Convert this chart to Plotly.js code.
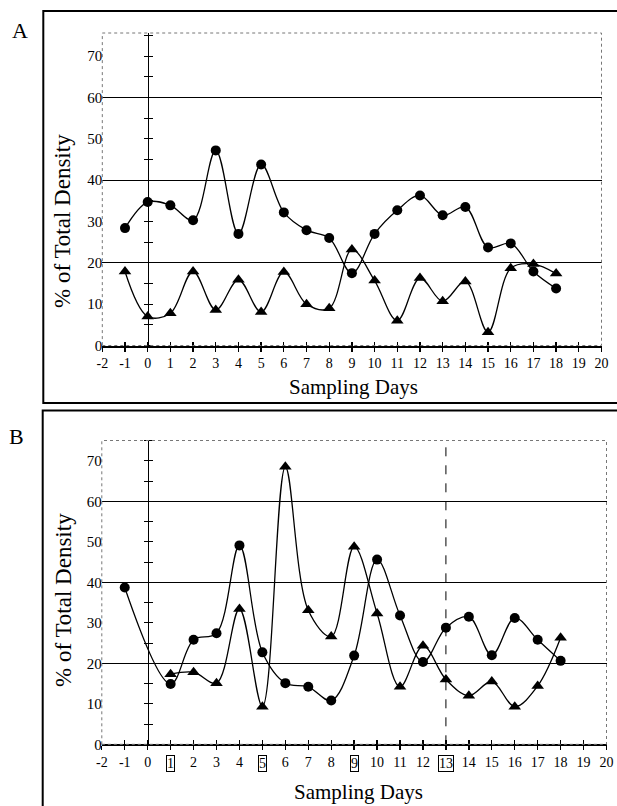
<!DOCTYPE html>
<html>
<head>
<meta charset="utf-8">
<script src="https://cdn.plot.ly/plotly-3.0.1.min.js"></script>
<style>html,body{margin:0;padding:0;background:#fff;}#chart{width:617px;height:806px;}</style>
</head>
<body>
<div id="chart"></div>
<script>
// ---------- data ----------
const xTicks = [-2,-1,0,1,2,3,4,5,6,7,8,9,10,11,12,13,14,15,16,17,18,19,20];
const yTicks = [0,10,20,30,40,50,60,70];
const yGrid  = [20,40,60];
const yMinor = [0,5,10,15,20,25,30,35,40,45,50,55,60,65,70,75];

// Panel A
const daysA = [-1,0,1,2,3,4,5,6,7,8,9,10,11,12,13,14,15,16,17,18];
const aCircle   = [28.4,34.7,33.9,30.3,47.2,27.0,43.8,32.2,27.9,26.0,17.5,27.0,32.7,36.3,31.5,33.5,23.7,24.7,17.9,13.8];
const aTriangle = [17.9,7.0,7.8,17.9,8.6,15.9,8.1,17.8,10.0,9.0,23.2,15.7,6.0,16.3,10.7,15.5,3.2,18.7,19.7,17.4];

// Panel B
const daysBCircle = [-1,1,2,3,4,5,6,7,8,9,10,11,12,13,14,15,16,17,18];
const bCircle     = [38.7,14.9,25.8,27.4,49.1,22.7,15.1,14.2,10.8,21.9,45.6,31.8,20.3,28.8,31.5,22.0,31.2,25.8,20.6];
const daysBTri    = [1,2,3,4,5,6,7,8,9,10,11,12,13,14,15,16,17,18];
const bTriangle   = [17.3,17.8,15.1,33.4,9.3,68.5,33.1,26.6,48.8,32.3,14.2,24.3,16.0,12.0,15.5,9.3,14.4,26.3];

const boxedDaysB = [1,5,9,13];
const dashedDayB = 13;

// ---------- styling ----------
const FONT = 'Liberation Serif, Times New Roman, serif';
const W = 617, H = 806;
const px = v => v / W;
const py = v => 1 - v / H;

const lineStyle = {color:'#000', width:1.3, shape:'spline', smoothing:1};
function series(x, y, sym, xa, ya, size){
  return {x:x, y:y, xaxis:xa, yaxis:ya, type:'scatter', mode:'lines+markers',
    line:lineStyle, marker:{symbol:sym, size:size, color:'#000'},
    hoverinfo:'skip', showlegend:false, cliponaxis:false};
}
// empty carrier traces so that overlay axes get drawn
function carrier(xa, ya){
  return {x:[], y:[], xaxis:xa, yaxis:ya, type:'scatter', mode:'markers',
    hoverinfo:'skip', showlegend:false};
}

const rangeX = [-2, 20];
const rangeYA = [0, 75.6];
const rangeYB = [0, 75];

const domXA = [px(102.3), px(601.5)];
const domYA = [py(345.5), py(33)];
const domXB = [px(101.8), px(606.5)];
const domYB = [py(744.3), py(440.5)];
const zeroPos = px(147.7);

const ticktextB = xTicks.map(v => boxedDaysB.includes(v) ? '' : String(v));

function xMain(dom, anchor, ticktext){
  return {domain:dom, anchor:anchor, range:rangeX, tickmode:'array', tickvals:xTicks,
    ticktext:ticktext, showline:true, linewidth:2, linecolor:'#000', ticks:'outside',
    ticklen:4, tickwidth:1.3, tickcolor:'#000', showgrid:false, zeroline:false,
    tickfont:{family:FONT, size:14, color:'#000'}, fixedrange:true};
}
function xInside(over, anchor){
  return {overlaying:over, anchor:anchor, side:'bottom', range:rangeX, tickmode:'array',
    tickvals:xTicks, ticks:'inside', ticklen:4, tickwidth:1.3, tickcolor:'#000',
    showticklabels:false, showline:false, showgrid:false, zeroline:false};
}
// main y: gridlines only
function yMain(dom, anchor, range){
  return {domain:dom, anchor:anchor, range:range, tickmode:'array', tickvals:yGrid,
    showticklabels:false, ticks:'', showline:false, showgrid:true, gridcolor:'#000',
    gridwidth:1, zeroline:false, fixedrange:true};
}
// overlay y: tick labels at left edge
function yLabels(over, pos, range){
  return {overlaying:over, anchor:'free', position:pos, side:'left', range:range,
    tickmode:'array', tickvals:yTicks, ticks:'', showline:false, showgrid:false,
    zeroline:false, tickfont:{family:FONT, size:15, color:'#000'}};
}
// overlay y at x = 0: line + crossing ticks every 5
function yZero(over, range, side, line){
  return {overlaying:over, anchor:'free', position:zeroPos, side:side, range:range,
    tickmode:'array', tickvals:yMinor, showgrid:false, ticks:'outside', ticklen:4,
    tickwidth:1, tickcolor:'#000', showticklabels:false, showline:line,
    linecolor:'#000', linewidth:1.5, zeroline:false};
}

const data = [
  carrier('x3', 'y'), carrier('x', 'y3'), carrier('x', 'y4'), carrier('x', 'y5'),
  carrier('x4', 'y2'), carrier('x2', 'y6'), carrier('x2', 'y7'), carrier('x2', 'y8'),
  series(daysA, aCircle, 'circle', 'x', 'y', 10),
  series(daysA, aTriangle, 'triangle-up', 'x', 'y', 11),
  series(daysBCircle, bCircle, 'circle', 'x2', 'y2', 10),
  series(daysBTri, bTriangle, 'triangle-up', 'x2', 'y2', 11)
];

const shapes = [
  // outer panel boxes
  {type:'rect', xref:'paper', yref:'paper', x0:px(43.3), x1:1.05, y0:py(403), y1:py(11),
    line:{color:'#000', width:2}},
  {type:'rect', xref:'paper', yref:'paper', x0:px(42.7), x1:1.05, y0:-0.05, y1:py(410.5),
    line:{color:'#000', width:2}},
  // plot borders (dotted)
  {type:'rect', xref:'x domain', yref:'y domain', x0:0, x1:1, y0:0, y1:1,
    line:{color:'#777', width:1, dash:'dot'}},
  {type:'rect', xref:'x2 domain', yref:'y2 domain', x0:0, x1:1, y0:0, y1:1,
    line:{color:'#777', width:1, dash:'dot'}},
  // dashed line in B
  {type:'line', xref:'x2', yref:'y2 domain', x0:dashedDayB, x1:dashedDayB, y0:0, y1:1,
    line:{color:'#000', width:1, dash:'dash'}}
];

function ann(text, x, y, size, extra){
  return Object.assign({text:text, xref:'paper', yref:'paper', x:x, y:y, xanchor:'center',
    yanchor:'middle', showarrow:false, font:{family:FONT, size:size, color:'#000'}}, extra || {});
}
const annotations = [
  ann('A', px(20), py(30), 22),
  ann('B', px(16), py(436), 22),
  ann('% of Total Density', px(63), py(221), 23, {textangle:-90}),
  ann('% of Total Density', px(63), py(600), 23, {textangle:-90}),
  ann('Sampling Days', px(354), py(387), 21),
  ann('Sampling Days', px(358), py(792), 21)
];
boxedDaysB.forEach(d => annotations.push(ann(String(d), d, py(763), 14,
  {xref:'x2', bordercolor:'#000', borderwidth:1, borderpad:0})));

const layout = {
  width:W, height:H, margin:{l:0, r:0, t:0, b:0},
  paper_bgcolor:'#fff', plot_bgcolor:'rgba(0,0,0,0)',
  font:{family:FONT, color:'#000'},
  showlegend:false,
  xaxis: xMain(domXA, 'y', xTicks.map(String)),
  yaxis: yMain(domYA, 'x', rangeYA),
  xaxis2: xMain(domXB, 'y2', ticktextB),
  yaxis2: yMain(domYB, 'x2', rangeYB),
  xaxis3: xInside('x', 'y'),
  xaxis4: xInside('x2', 'y2'),
  yaxis3: yLabels('y', domXA[0], rangeYA),
  yaxis4: yZero('y', rangeYA, 'left', true),
  yaxis5: yZero('y', rangeYA, 'right', false),
  yaxis6: yLabels('y2', domXB[0], rangeYB),
  yaxis7: yZero('y2', rangeYB, 'left', true),
  yaxis8: yZero('y2', rangeYB, 'right', false),
  shapes: shapes,
  annotations: annotations
};

Plotly.newPlot('chart', data, layout, {staticPlot:true, displayModeBar:false});
</script>
</body>
</html>
